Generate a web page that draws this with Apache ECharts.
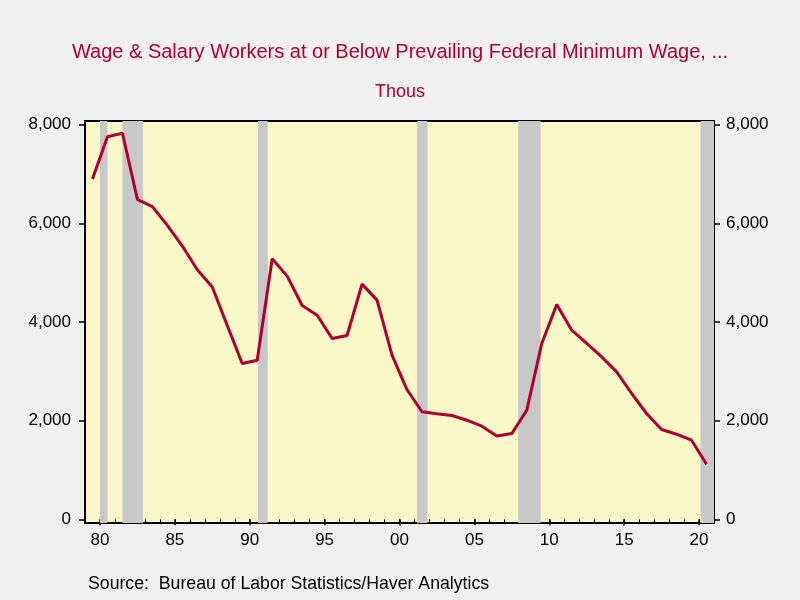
<!DOCTYPE html>
<html>
<head>
<meta charset="utf-8">
<script src="https://cdn.jsdelivr.net/npm/echarts@6/dist/echarts.min.js"></script>
<style>
  html, body { margin: 0; padding: 0; background: #f0f0f0; }
  #chart { width: 800px; height: 600px; }
</style>
</head>
<body>
<div id="chart"></div>
<script>
// annual values, thousands of workers
const years = [1979, 1980, 1981, 1982, 1983, 1984, 1985, 1986, 1987, 1988,
    1989, 1990, 1991, 1992, 1993, 1994, 1995, 1996, 1997, 1998,
    1999, 2000, 2001, 2002, 2003, 2004, 2005, 2006, 2007, 2008,
    2009, 2010, 2011, 2012, 2013, 2014, 2015, 2016, 2017, 2018,
    2019, 2020];
const workers = [6900, 7757, 7826, 6487, 6340, 5960, 5540, 5060, 4710, 3930,
    3160, 3226, 5282, 4930, 4335, 4139, 3666, 3727, 4768, 4444,
    3328, 2631, 2180, 2140, 2104, 2009, 1887, 1690, 1738, 2212,
    3565, 4356, 3835, 3565, 3293, 2989, 2550, 2145, 1820, 1725,
    1603, 1116];

// NBER recessions (fractional years)
const recessionStart = [1980.0, 1981.5, 1990.55, 2001.17, 2007.92, 2020.1];
const recessionEnd = [1980.5, 1982.87, 1991.2, 2001.87, 2009.42, 2021.0];

const yTicks = [0, 2000, 4000, 6000, 8000];
const xMajorTicks = [1980, 1985, 1990, 1995, 2000, 2005, 2010, 2015, 2020];
const xMinorTicks = years.filter(y => y > 1979);

const chart = echarts.init(document.getElementById('chart'));

const font = 'Liberation Sans, Arial, sans-serif';
const red = '#ad0030';

const fmtThousands = v => v.toLocaleString('en-US');

function yAxisFor(pos, margin) {
    return {
        type: 'value',
        position: pos,
        min: -75,
        max: 8075,
        axisLine: { show: false },
        splitLine: { show: false },
        axisTick: { show: true, length: 6, customValues: yTicks, lineStyle: { color: '#000', width: 1.5 } },
        axisLabel: {
            customValues: yTicks,
            formatter: fmtThousands,
            color: '#000',
            fontSize: 17,
            fontFamily: font,
            margin: margin
        }
    };
}

chart.setOption({
    backgroundColor: '#f0f0f0',
    animation: false,
    title: [{
        text: 'Wage & Salary Workers at or Below Prevailing Federal Minimum Wage, ...',
        left: 'center',
        top: 37,
        textStyle: { color: red, fontSize: 20, fontWeight: 'normal', fontFamily: font }
    }, {
        text: 'Thous',
        left: 'center',
        top: 78,
        textStyle: { color: red, fontSize: 18, fontWeight: 'normal', fontFamily: font }
    }, {
        text: 'Source:  Bureau of Labor Statistics/Haver Analytics',
        left: 83,
        top: 570,
        textStyle: { color: '#000', fontSize: 17.7, fontWeight: 'normal', fontFamily: font }
    }],
    grid: {
        left: 85,
        right: 86,
        top: 121,
        bottom: 77,
        show: true,
        backgroundColor: '#faf8c8',
        borderColor: '#000',
        borderWidth: 2
    },
    xAxis: [{
        type: 'value',
        min: 1979,
        max: 2021,
        position: 'bottom',
        axisLine: { show: false },
        splitLine: { show: false },
        axisTick: { show: true, length: 6, customValues: xMajorTicks, lineStyle: { color: '#000', width: 1.5 } },
        axisLabel: {
            customValues: xMajorTicks,
            formatter: v => String(v % 100).padStart(2, '0'),
            color: '#000',
            fontSize: 17,
            fontFamily: font,
            margin: 9
        }
    }, {
        type: 'value',
        min: 1979,
        max: 2021,
        position: 'bottom',
        axisLine: { show: false },
        splitLine: { show: false },
        axisTick: { show: true, length: 3, customValues: xMinorTicks, lineStyle: { color: '#000', width: 1 } },
        axisLabel: { show: false }
    }],
    yAxis: [yAxisFor('left', 14), yAxisFor('right', 12)],
    series: [{
        type: 'line',
        xAxisIndex: 0,
        yAxisIndex: 0,
        data: years.map((y, i) => [y + 0.5, workers[i]]),
        showSymbol: false,
        lineStyle: { color: red, width: 3 },
        z: 5,
        markArea: {
            silent: true,
            itemStyle: { color: '#c8c8c8' },
            data: recessionStart.map((s, i) => [{ xAxis: s }, { xAxis: recessionEnd[i] }])
        }
    }]
});
</script>
</body>
</html>
